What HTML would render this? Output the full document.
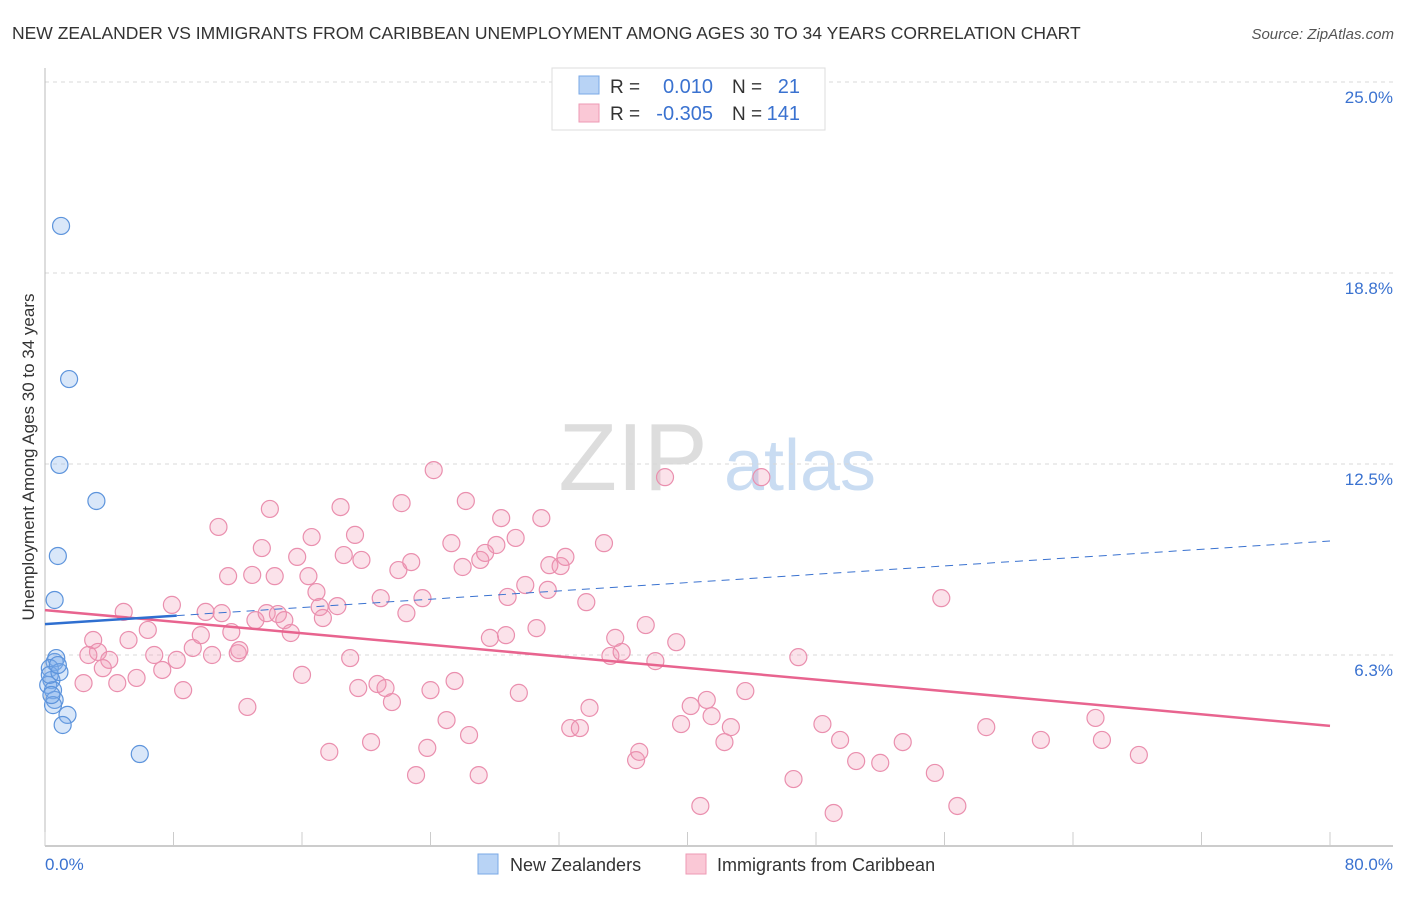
<!DOCTYPE html>
<html><head><meta charset="utf-8">
<style>
body{margin:0;background:#fff;font-family:"Liberation Sans",sans-serif;}
svg text{font-family:"Liberation Sans",sans-serif;}
</style></head>
<body>
<svg id="chart" width="1406" height="892" xmlns="http://www.w3.org/2000/svg">
<text x="12" y="39" font-size="17.5" fill="#333">NEW ZEALANDER VS IMMIGRANTS FROM CARIBBEAN UNEMPLOYMENT AMONG AGES 30 TO 34 YEARS CORRELATION CHART</text>
<text x="1394" y="39" font-size="15" fill="#555" font-style="italic" text-anchor="end">Source: ZipAtlas.com</text>
<g>
<text x="633" y="490" font-size="96" font-family="Liberation Serif, serif" fill="#ddd" text-anchor="middle">ZIP</text>
<text x="800" y="490" font-size="72" fill="#c9dcf2" text-anchor="middle">atlas</text>
</g>
<g id="grid"></g>
<g id="axes"></g>
<g id="marks"></g>
<g><text transform="translate(34,457) rotate(-90)" font-size="17" fill="#333" text-anchor="middle">Unemployment Among Ages 30 to 34 years</text></g>
<g>
<rect x="552" y="68" width="273" height="62" fill="#fff" stroke="#ddd"/>
<rect x="579" y="76" width="20" height="18" fill="#b8d3f5" stroke="#7aa8e6"/>
<rect x="579" y="104" width="20" height="18" fill="#fac8d6" stroke="#ee9ab4"/>
<text x="610" y="93" font-size="19" fill="#333">R =</text>
<text x="713" y="93" font-size="20" fill="#3a72d0" text-anchor="end">0.010</text>
<text x="732" y="93" font-size="19" fill="#333">N =</text>
<text x="800" y="93" font-size="20" fill="#3a72d0" text-anchor="end">21</text>
<text x="610" y="120" font-size="19" fill="#333">R =</text>
<text x="713" y="120" font-size="20" fill="#3a72d0" text-anchor="end">-0.305</text>
<text x="732" y="120" font-size="19" fill="#333">N =</text>
<text x="800" y="120" font-size="20" fill="#3a72d0" text-anchor="end">141</text>
</g>
<g>
<rect x="478" y="854" width="20" height="20" fill="#b8d3f5" stroke="#7aa8e6"/>
<text x="510" y="871" font-size="18" fill="#333">New Zealanders</text>
<rect x="686" y="854" width="20" height="20" fill="#fac8d6" stroke="#ee9ab4"/>
<text x="717" y="871" font-size="18" fill="#333">Immigrants from Caribbean</text>
</g>
</svg>
<script>
const xTickLabels=["0.0%","80.0%"];
const yTickValues=[6.25,12.5,18.75,25];
const yTickLabels=["6.3%","12.5%","18.8%","25.0%"];
const blueX=[1.0,1.5,0.9,3.2,0.8,0.6,0.6,0.7,0.3,0.4,0.2,0.5,0.6,0.5,1.4,1.1,5.9,0.3,0.9,0.8,0.4];
const blueY=[20.29,15.28,12.47,11.29,9.49,8.05,6.02,6.15,5.82,5.43,5.27,5.10,4.78,4.61,4.29,3.96,3.01,5.60,5.69,5.92,4.94];
const pinkX=[4.9,6.4,3.0,3.3,5.2,4.0,2.7,3.6,2.4,4.5,5.7,6.8,7.3,7.9,8.2,8.6,9.2,9.7,10.0,10.4,10.8,11.0,11.4,11.6,12.0,12.1,12.6,12.9,13.1,13.5,13.8,14.0,14.3,14.5,14.9,15.3,15.7,16.0,16.4,16.6,16.9,17.1,17.3,17.7,18.2,18.4,18.6,19.0,19.3,19.5,19.7,20.3,20.7,20.9,21.2,21.6,22.0,22.2,22.5,22.8,23.1,23.5,23.8,24.0,24.2,25.0,25.3,25.5,26.0,26.2,26.4,27.0,27.1,27.4,27.7,28.1,28.4,28.7,28.8,29.3,29.5,29.9,30.6,30.9,31.3,31.4,32.1,32.4,32.7,33.3,33.7,33.9,34.8,35.2,35.5,35.9,36.8,37.0,37.4,38.0,38.6,39.3,39.6,40.2,40.8,41.2,41.5,42.3,42.7,43.6,44.6,46.6,46.9,48.4,49.1,49.5,50.5,52.0,53.4,55.4,55.8,56.8,58.6,62.0,65.4,65.8,68.1];
const pinkY=[7.66,7.07,6.74,6.35,6.74,6.09,6.25,5.82,5.33,5.33,5.50,6.25,5.76,7.89,6.09,5.10,6.48,6.90,7.66,6.25,10.44,7.62,8.83,7.00,6.31,6.41,4.55,8.87,7.39,9.75,7.62,11.03,8.83,7.59,7.39,6.97,9.46,5.60,8.83,10.11,8.31,7.82,7.46,3.08,7.85,11.09,9.52,6.15,10.18,5.17,9.36,3.40,5.30,8.11,5.17,4.71,9.03,11.22,7.62,9.29,2.32,8.11,3.21,5.10,12.30,4.12,9.91,5.40,9.13,11.29,3.63,2.32,9.36,9.59,6.81,9.85,10.73,6.90,8.15,10.08,5.01,8.54,7.13,10.73,8.38,9.19,9.16,9.46,3.86,3.86,7.98,4.52,9.91,6.22,6.81,6.35,2.81,3.08,7.23,6.05,12.07,6.67,3.99,4.58,1.31,4.78,4.25,3.40,3.89,5.07,12.07,2.19,6.18,3.99,1.08,3.47,2.78,2.72,3.40,2.39,8.11,1.31,3.89,3.47,4.19,3.47,2.98];
const blueTrend=[7.26,9.98]; // y at x=0 and x=80
const blueSolidEnd=8.2;       // x where solid part ends
const pinkTrend=[7.72,3.93];

const NS="http://www.w3.org/2000/svg";
const X=v=>45+v/80*1285;
const Y=v=>846-v/6.25*191;
function mk(tag,attrs,parent){const e=document.createElementNS(NS,tag);for(const k in attrs)e.setAttribute(k,attrs[k]);parent.appendChild(e);return e;}
const grid=document.getElementById('grid'),axes=document.getElementById('axes'),marks=document.getElementById('marks');
yTickValues.forEach((v,i)=>{
  const l=mk('line',{x1:45,x2:1393,y1:Y(v),y2:Y(v),stroke:'#d8d8d8','stroke-dasharray':'4,4'},grid);
  
  
  const t=mk('text',{x:1393,y:Y(v)+21,'font-size':17,fill:'#3a72d0','text-anchor':'end'},axes);
  t.textContent=yTickLabels[i];
  
  
});
const ya=mk('line',{x1:45,x2:45,y1:68,y2:846,stroke:'#bbb'},axes);


const xa=mk('line',{x1:45,x2:1393,y1:846,y2:846,stroke:'#bbb','stroke-width':1.5},axes);


for(let i=0;i<=10;i++){
  const tk=mk('line',{x1:X(i*8),x2:X(i*8),y1:832,y2:846,stroke:'#ccc'},axes);
  
  
}
[[0,'start',45],[1,'end',1393]].forEach(([i,a,x])=>{
  const t=mk('text',{x:x,y:870,'font-size':17,fill:'#3a72d0','text-anchor':a},axes);
  t.textContent=xTickLabels[i];
  
  
});
pinkX.forEach((v,i)=>{
  const c=mk('circle',{cx:X(v),cy:Y(pinkY[i]),r:8.5,fill:'rgba(242,150,180,0.28)',stroke:'#ea8fae','stroke-width':1.2},marks);
  
  
});
blueX.forEach((v,i)=>{
  const c=mk('circle',{cx:X(v),cy:Y(blueY[i]),r:8.5,fill:'rgba(130,175,235,0.3)',stroke:'#5d94dc','stroke-width':1.2},marks);
  
  
});
const bAt=x=>blueTrend[0]+(blueTrend[1]-blueTrend[0])*x/80;
const pl=mk('line',{x1:X(0),y1:Y(pinkTrend[0]),x2:X(80),y2:Y(pinkTrend[1]),stroke:'#e8648f','stroke-width':2.5},marks);


const bs=mk('line',{x1:X(0),y1:Y(bAt(0)),x2:X(blueSolidEnd),y2:Y(bAt(blueSolidEnd)),stroke:'#2f6fd0','stroke-width':2.5},marks);


const bd=mk('line',{x1:X(blueSolidEnd),y1:Y(bAt(blueSolidEnd)),x2:X(80),y2:Y(bAt(80)),stroke:'#3a72d0','stroke-width':1,'stroke-dasharray':'8,6'},marks);


</script>
</body></html>
